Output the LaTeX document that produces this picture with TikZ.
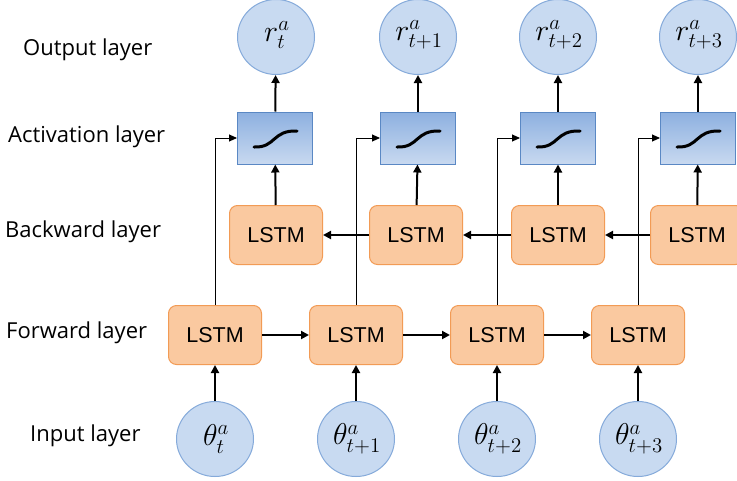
\documentclass[tikz,border=0pt]{standalone}
\usepackage{fontspec}
\setmainfont{Open Sans}
\newfontfamily\lstmfont{Liberation Sans}
\usetikzlibrary{arrows.meta,shapes.geometric}
\definecolor{circfill}{HTML}{C8DAF1}
\definecolor{circdraw}{HTML}{85AADA}
\definecolor{acttop}{HTML}{8DB0E0}
\definecolor{actbot}{HTML}{C8D9F0}
\definecolor{actdraw}{HTML}{5A88C4}
\definecolor{lstmfill}{HTML}{FAC9A0}
\definecolor{lstmdraw}{HTML}{F29B55}
\newcommand{\mybigmath}[1]{\scalebox{1.45}{$#1$}}
\tikzset{
  circnode/.style={ellipse, minimum width=77pt, minimum height=75pt, fill=circfill, draw=circdraw, line width=1pt, inner sep=0pt},
  mathlbl/.style={inner sep=0pt, font=\fontsize{20}{24}\selectfont},
  actnode/.style={rectangle, minimum width=75pt, minimum height=52pt, top color=acttop, bottom color=actbot, draw=actdraw, line width=1pt, inner sep=0pt},
  lstmnode/.style={rectangle, rounded corners=8pt, minimum width=93pt, minimum height=59pt, fill=lstmfill, draw=lstmdraw, line width=1pt, font=\lstmfont\fontsize{21.5}{25}\selectfont, inner sep=0pt},
  layerlabel/.style={anchor=west, inner sep=0pt, font=\fontsize{22}{26}\selectfont},
  arr/.style={line width=2pt, -{Triangle[length=8pt,width=8pt]}},
  thinarr/.style={line width=0.9pt, -{Triangle[length=8pt,width=7pt]}},
  sig/.style={line width=3pt, line cap=round}
}
\begin{document}
\begin{tikzpicture}[x=1pt,y=-1pt]
\clip (0,0) rectangle (737,480);
\fill[white] (0,0) rectangle (737,480);
% labels
\node[layerlabel] (lo) at (23,50) {Output layer};
\node[layerlabel] (la) at (8,137) {Activation layer};
\node[layerlabel] (lb) at (5,232) {Backward layer};
\node[layerlabel] (lf) at (6,333) {Forward layer};
\node[layerlabel] (li) at (30,436) {Input layer};
% output
\foreach \i/\x/\s in {1/276/t,2/418/t+1,3/558/t+2,4/698/t+3}{
  \node[circnode] (o\i) at (\x,37) {};
  \node[mathlbl] (ot\i) at ([xshift=1pt,yshift=2pt]o\i.center) {\mybigmath{r_{\s}^a}};
}
% activation
\foreach \i/\x in {1/275,2/418,3/558,4/698}{
  \node[actnode] (a\i) at (\x,138) {};
  \draw[sig] ([shift={(-21,9)}]a\i.center) .. controls ([shift={(1,10)}]a\i.center) and ([shift={(-3,-8)}]a\i.center) .. ([shift={(22,-7)}]a\i.center);
}
% backward
\node[lstmnode] (b1) at (276,235) {LSTM};
\node[lstmnode] (b2) at (416,235) {LSTM};
\node[lstmnode] (b3) at (558,235) {LSTM};
\node[lstmnode] (b4) at (697,235) {LSTM};
% forward
\node[lstmnode] (f1) at (215,335) {LSTM};
\node[lstmnode] (f2) at (356,335) {LSTM};
\node[lstmnode] (f3) at (497,335) {LSTM};
\node[lstmnode] (f4) at (638,335) {LSTM};
% input
\foreach \i/\x/\s in {1/215/t,2/356/t+1,3/497/t+2,4/638/t+3}{
  \node[circnode] (i\i) at (\x,439) {};
  \node[mathlbl] (it\i) at ([xshift=1pt,yshift=0pt]i\i.center) {\mybigmath{\theta_{\s}^a}};
}
% connectors
\foreach \i in {1,2,3,4}{
  \draw[arr] (i\i) -- (f\i);
  \draw[arr] (b\i) -- (a\i);
  \draw[arr] (a\i) -- (o\i);
  \draw[thinarr] (f\i.north) |- (a\i.west);
}
\draw[arr] (f1) -- (f2);
\draw[arr] (f2) -- (f3);
\draw[arr] (f3) -- (f4);
\draw[arr] (b4) -- (b3);
\draw[arr] (b3) -- (b2);
\draw[arr] (b2) -- (b1);
\end{tikzpicture}
\end{document}
